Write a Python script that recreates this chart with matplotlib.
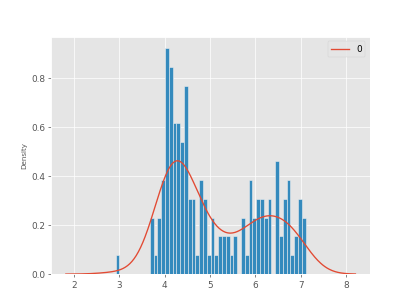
import numpy as np
import matplotlib
matplotlib.use("Agg")
import matplotlib.pyplot as plt

plt.style.use("ggplot")

# histogram: 50 bins, counts per bin
bin_start = 2.92
bin_end = 7.11
counts = [1, 0, 0, 0, 0, 0, 0, 0, 0, 3,
          1, 3, 5, 12, 11, 8, 8, 7, 10, 4,
          4, 1, 5, 4, 1, 3, 1, 2, 2, 2,
          1, 2, 0, 3, 1, 5, 3, 4, 4, 3,
          4, 0, 6, 2, 4, 5, 1, 2, 4, 3]
legend_label = "0"

edges = np.linspace(bin_start, bin_end, len(counts) + 1)
centers = (edges[:-1] + edges[1:]) / 2
values = np.repeat(centers, counts)

# gaussian kde (scott), evaluated out to 3 bandwidths past the data
bw = values.std(ddof=1) * len(values) ** (-1 / 5)
xs = np.linspace(values.min() - 3 * bw, values.max() + 3 * bw, 400)
kde = np.exp(-0.5 * ((xs[:, None] - values[None, :]) / bw) ** 2).sum(axis=1)
kde = kde / (len(values) * bw * np.sqrt(2 * np.pi))

fig, ax = plt.subplots(figsize=(6.4, 4.8), dpi=411 / 6.4)
ax.hist(centers, bins=edges, weights=counts, density=True,
        color="#348ABD", edgecolor="#EEEEEE", linewidth=0.6)
ax.plot(xs, kde, color="#E24A33", label=legend_label)
ax.set_ylabel("Density", fontsize=8)
ax.legend(loc="upper right")

fig.savefig("out.png")
